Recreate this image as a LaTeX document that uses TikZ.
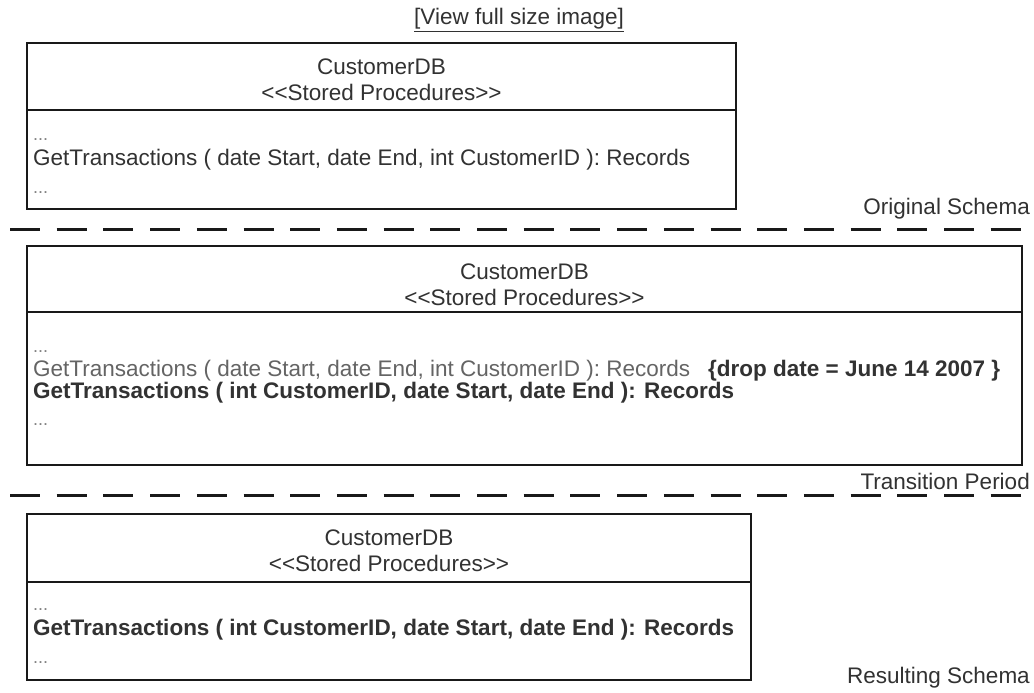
\documentclass[tikz,border=0pt]{standalone}
\usepackage{fontspec}
\newfontfamily\umlfont{Liberation Sans}
\usetikzlibrary{positioning}
\definecolor{ink}{RGB}{50,50,50}
\definecolor{faded}{RGB}{100,100,100}
\definecolor{dim}{RGB}{130,130,130}
\definecolor{rule}{RGB}{25,25,25}
\tikzset{
  head/.style={draw=rule,line width=2.6pt,anchor=north west,inner sep=0pt,outer sep=0pt},
  body/.style={draw=rule,line width=2.6pt,anchor=north west,inner sep=0pt,outer sep=0pt},
  title/.style={align=center,inner sep=0pt,text=ink,font=\umlfont\fontsize{22.5}{26}\selectfont},
  op/.style={anchor=west,inner sep=0pt,text=ink,font=\umlfont\fontsize{22.5}{26}\selectfont},
  op old/.style={op,text=faded},
  op new/.style={op,font=\umlfont\bfseries\fontsize{22.5}{26}\selectfont},
  dots/.style={anchor=west,inner sep=0pt,text=dim,font=\umlfont\fontsize{18}{20}\selectfont},
  tag/.style={anchor=east,inner sep=0pt,text=ink,font=\umlfont\fontsize{22.5}{26}\selectfont},
  phase/.style={rule,line width=3pt,dash pattern=on 30pt off 16.7pt},
}
\newcommand\stereo{\textless\textless Stored Procedures\textgreater\textgreater}

\begin{document}
\begin{tikzpicture}[x=1pt,y=-1pt]
  \useasboundingbox[fill=white] (0,0) rectangle (1034,693);
  \node[title] (view) at (519,20) {\underline{[View full size image]}};

  % original schema
  \node[head,minimum width=709pt,minimum height=67pt] (head1) at (27,43) {};
  \node[body,minimum width=709pt,minimum height=99pt] (body1) at (head1.south west) {};
  \node[title] (title1) at (381.5,80) {CustomerDB\\\stereo};
  \node[dots] (dots1a) at (33,140) {...};
  \node[op] (op1) at (33,160) {GetTransactions ( date Start, date End, int CustomerID ): Records};
  \node[dots] (dots1b) at (33,193) {...};
  \node[tag] (orig) at (1030,209) {Original Schema};
  \coordinate (sep1w) at (10,229);
  \coordinate (sep1e) at (1024,229);
  \draw[phase] (sep1w) -- (sep1e);

  % transition period
  \node[head,minimum width=995pt,minimum height=66pt] (head2) at (27,246) {};
  \node[body,minimum width=995pt,minimum height=153pt] (body2) at (head2.south west) {};
  \node[title] (title2) at (524.5,285) {CustomerDB\\\stereo};
  \node[dots] (dots2a) at (33,352) {...};
  \node[op old] (op2) at (33,371) {GetTransactions ( date Start, date End, int CustomerID ): Records};
  \node[op new] (drop) at (708,371) {\{drop date = June 14 2007 \}};
  \node[op new] (op3) at (33,393) {GetTransactions ( int CustomerID, date Start, date End ): Records};
  \node[dots] (dots2b) at (33,425) {...};
  \node[tag] (trans) at (1030,481) {Transition Period};
  \coordinate (sep2w) at (10,495);
  \coordinate (sep2e) at (1024,495);
  \draw[phase] (sep2w) -- (sep2e);

  % resulting schema
  \node[head,minimum width=724pt,minimum height=68pt] (head3) at (27,514) {};
  \node[body,minimum width=724pt,minimum height=98pt] (body3) at (head3.south west) {};
  \node[title] (title3) at (389,551) {CustomerDB\\\stereo};
  \node[dots] (dots3a) at (33,610) {...};
  \node[op new] (op4) at (33,630) {GetTransactions ( int CustomerID, date Start, date End ): Records};
  \node[dots] (dots3b) at (33,663) {...};
  \node[tag] (result) at (1030,678) {Resulting Schema};
\end{tikzpicture}
\end{document}
